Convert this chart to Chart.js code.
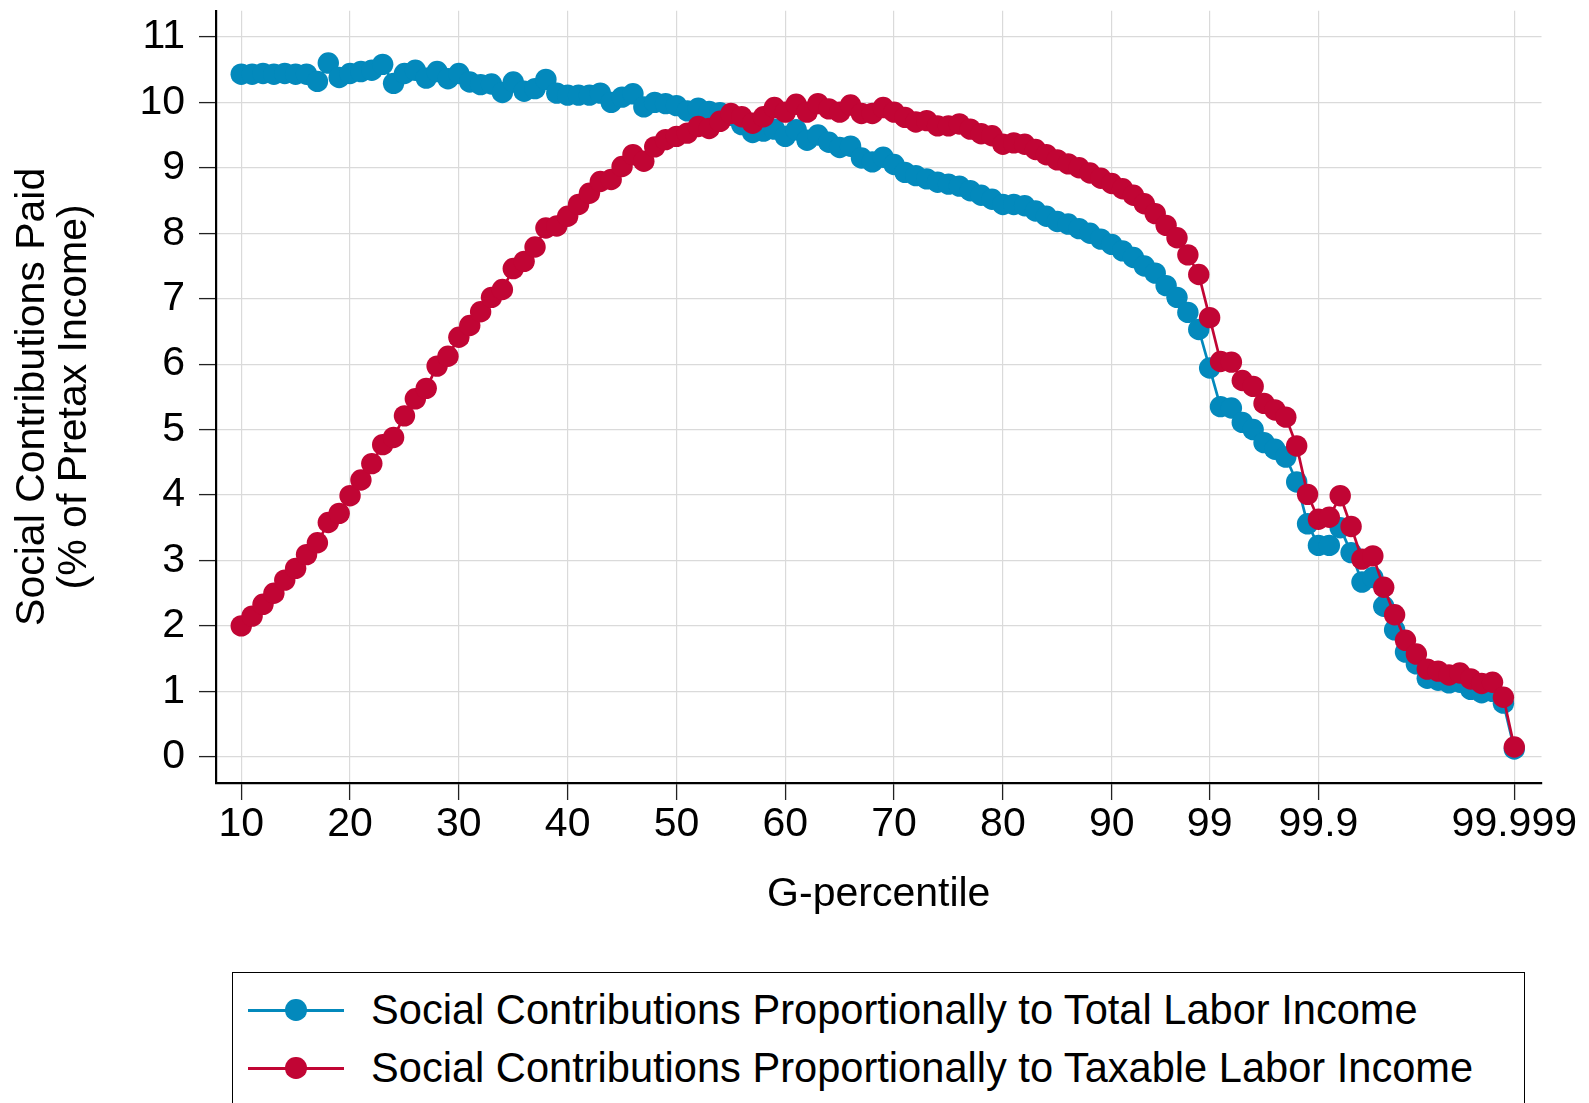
<!DOCTYPE html>
<html>
<head>
<meta charset="utf-8">
<script src="https://cdn.jsdelivr.net/npm/chart.js@4.4.1/dist/chart.umd.min.js"></script>
<style>
  html, body { margin: 0; padding: 0; background: #ffffff; overflow: hidden; }
  #wrap { position: relative; width: 1589px; height: 1103px; overflow: hidden; }
  #chart { position: absolute; left: 0; top: 0; }
  #legend {
    position: absolute; left: 232px; top: 972px; width: 1293px; height: 170px;
    border: 1.5px solid #000; box-sizing: border-box; background: #fff;
    font-family: 'Liberation Sans', Arial, sans-serif; font-size: 41.6px; color: #000;
  }
  .row { position: absolute; left: 0; height: 50px; display: flex; align-items: center; white-space: nowrap; }
  .sample { position: relative; width: 96px; height: 24px; margin-left: 15px; margin-right: 27px; }
  .sample .ln { position: absolute; left: 0; right: 0; top: 10.5px; height: 3px; }
  .sample .pt { position: absolute; left: 37.3px; top: 1.3px; width: 21.4px; height: 21.4px; border-radius: 50%; }
</style>
</head>
<body>
<div id="wrap">
  <canvas id="chart" width="1589" height="1103"></canvas>
  <div id="legend">
    <div class="row" id="row1" style="top:12px;"></div>
    <div class="row" id="row2" style="top:70px;"></div>
  </div>
</div>
<script>
// ---- data ----
const gRank = [];
for (let r = 10; r <= 127; r++) gRank.push(r);

const totalLaborShare = [
  10.43,10.43,10.44,10.43,10.44,10.43,10.43,10.32,10.60,10.38,
  10.44,10.47,10.49,10.58,10.29,10.44,10.49,10.37,10.47,10.36,
  10.44,10.31,10.27,10.28,10.15,10.31,10.17,10.21,10.35,10.14,
  10.11,10.11,10.11,10.14,10.00,10.08,10.13,9.93,10.00,9.98,
  9.95,9.87,9.91,9.86,9.84,9.80,9.66,9.54,9.56,9.59,
  9.48,9.58,9.42,9.50,9.39,9.31,9.33,9.15,9.09,9.16,
  9.05,8.93,8.88,8.83,8.78,8.75,8.72,8.65,8.58,8.52,
  8.44,8.44,8.42,8.34,8.26,8.18,8.14,8.07,8.00,7.91,
  7.83,7.73,7.63,7.50,7.39,7.20,7.02,6.79,6.53,5.94,
  5.35,5.33,5.11,5.00,4.80,4.70,4.58,4.20,3.56,3.23,
  3.23,3.50,3.12,2.67,2.74,2.30,1.94,1.60,1.42,1.20,
  1.17,1.13,1.14,1.03,0.98,1.00,0.82,0.12
];

const taxableLaborShare = [
  2.00,2.15,2.33,2.50,2.70,2.88,3.09,3.27,3.58,3.72,
  3.99,4.23,4.48,4.77,4.88,5.21,5.47,5.63,5.97,6.12,
  6.41,6.59,6.80,7.02,7.14,7.46,7.57,7.79,8.08,8.11,
  8.26,8.44,8.61,8.79,8.82,9.02,9.20,9.10,9.32,9.43,
  9.48,9.53,9.63,9.60,9.71,9.83,9.78,9.68,9.78,9.92,
  9.85,9.97,9.85,9.98,9.90,9.85,9.96,9.83,9.83,9.92,
  9.85,9.77,9.70,9.72,9.64,9.64,9.67,9.59,9.52,9.49,
  9.36,9.38,9.36,9.28,9.20,9.12,9.06,9.00,8.92,8.84,
  8.76,8.68,8.58,8.45,8.30,8.12,7.93,7.67,7.37,6.71,
  6.04,6.03,5.75,5.66,5.40,5.30,5.19,4.75,4.01,3.63,
  3.66,3.99,3.52,3.02,3.07,2.59,2.17,1.78,1.57,1.34,
  1.31,1.25,1.28,1.19,1.12,1.14,0.91,0.15
];

const xTickValues = [10, 20, 30, 40, 50, 60, 70, 80, 90, 99, 109, 127];
const xTickLabels = ['10', '20', '30', '40', '50', '60', '70', '80', '90', '99', '99.9', '99.999'];
const yTickValues = [0, 1, 2, 3, 4, 5, 6, 7, 8, 9, 10, 11];

const seriesNames = [
  'Social Contributions Proportionally to Total Labor Income',
  'Social Contributions Proportionally to Taxable Labor Income'
];
const seriesColors = ['#0389bc', '#c10534'];

// ---- chart ----
const FONT = "'Liberation Sans', Arial, sans-serif";
const toPts = (vals) => gRank.map((r, i) => ({ x: r, y: vals[i] }));

new Chart(document.getElementById('chart'), {
  type: 'line',
  data: {
    datasets: [
      {
        label: seriesNames[1], data: toPts(taxableLaborShare),
        borderColor: seriesColors[1], backgroundColor: seriesColors[1],
        pointBackgroundColor: seriesColors[1], pointBorderWidth: 0,
        pointRadius: 10.7, borderWidth: 2.7, tension: 0, fill: false
      },
      {
        label: seriesNames[0], data: toPts(totalLaborShare),
        borderColor: seriesColors[0], backgroundColor: seriesColors[0],
        pointBackgroundColor: seriesColors[0], pointBorderWidth: 0,
        pointRadius: 10.7, borderWidth: 2.7, tension: 0, fill: false
      }
    ]
  },
  options: {
    responsive: false,
    devicePixelRatio: 1,
    animation: false,
    events: [],
    layout: { padding: { left: 0, top: 9, right: 47.5, bottom: 184 } },
    plugins: { legend: { display: false }, tooltip: { enabled: false }, title: { display: false } },
    scales: {
      x: {
        type: 'linear', min: 7.68, max: 129.5,
        afterBuildTicks: (s) => { s.ticks = xTickValues.map(v => ({ value: v })); },
        afterFit: (s) => { s.height = 136; s.paddingLeft = 0; s.paddingRight = 0; },
        ticks: {
          autoSkip: false, maxRotation: 0, minRotation: 0, padding: 0, color: '#000',
          font: { family: FONT, size: 41 },
          callback: (v, i) => xTickLabels[i]
        },
        grid: { color: '#dadada', lineWidth: 1.2, drawTicks: true, tickLength: 17, tickColor: '#222', tickWidth: 1.3 },
        border: { display: true, color: '#000', width: 2.2 },
        title: { display: true, text: 'G-percentile', color: '#000', font: { family: FONT, size: 41, lineHeight: 1.2 }, padding: 0 }
      },
      y: {
        type: 'linear', min: -0.4, max: 11.4,
        afterBuildTicks: (s) => { s.ticks = yTickValues.map(v => ({ value: v })); },
        afterFit: (s) => { s.width = 216; s.paddingTop = 0; s.paddingBottom = 0; },
        ticks: {
          padding: 14, color: '#000',
          font: { family: FONT, size: 41 },
          callback: (v) => String(v)
        },
        grid: { color: '#dadada', lineWidth: 1.2, drawTicks: true, tickLength: 17, tickColor: '#222', tickWidth: 1.3 },
        border: { display: true, color: '#000', width: 2.2 },
        title: {
          display: true, text: ['Social Contributions Paid', '(% of Pretax Income)'], color: '#000',
          font: { family: FONT, size: 41, lineHeight: 1.037 }, padding: { top: 11, bottom: 0 }
        }
      }
    }
  }
});

// ---- legend (HTML) ----
function buildRow(el, name, color) {
  el.innerHTML = '<div class="sample"><div class="ln" style="background:' + color + '"></div>' +
    '<div class="pt" style="background:' + color + '"></div></div><span>' + name + '</span>';
}
buildRow(document.getElementById('row1'), seriesNames[0], seriesColors[0]);
buildRow(document.getElementById('row2'), seriesNames[1], seriesColors[1]);
</script>
</body>
</html>
